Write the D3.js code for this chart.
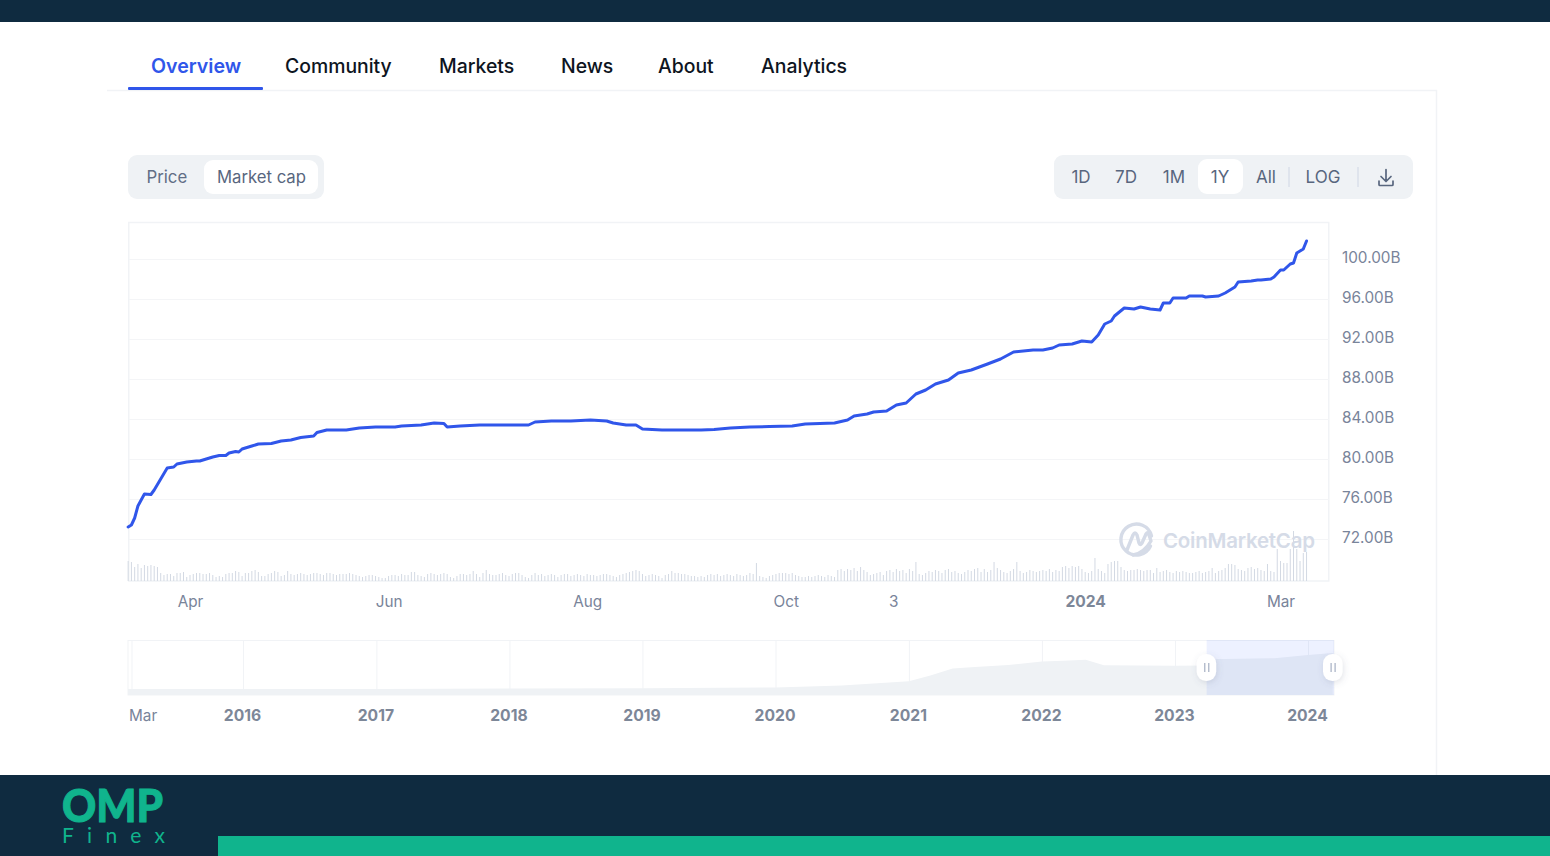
<!DOCTYPE html>
<html>
<head>
<meta charset="utf-8">
<title>Market cap</title>
<script src="https://cdnjs.cloudflare.com/ajax/libs/d3/7.8.5/d3.min.js"></script>
<style>
	html, body { margin: 0; padding: 0; background: #fff; overflow: hidden; }
	svg { display: block; }
	text { font-family: Inter, "Noto Sans", sans-serif; }
	.axis path.domain { display: none; }
</style>
</head>
<body>
<svg width="1550" height="856"></svg>
<script>
// Market cap line (date, billions)
const capDates = ["2023-03-13","2023-03-14","2023-03-15","2023-03-16","2023-03-18","2023-03-20","2023-03-21","2023-03-23","2023-03-25","2023-03-27","2023-03-28","2023-03-31",
	"2023-04-03","2023-04-04","2023-04-06","2023-04-08","2023-04-10","2023-04-12","2023-04-13","2023-04-15","2023-04-16","2023-04-17","2023-04-18","2023-04-20","2023-04-22","2023-04-26","2023-04-29",
	"2023-05-02","2023-05-05","2023-05-09","2023-05-10","2023-05-13","2023-05-19","2023-05-23","2023-05-28",
	"2023-06-03","2023-06-05","2023-06-11","2023-06-15","2023-06-18","2023-06-19","2023-06-23","2023-06-29",
	"2023-07-05","2023-07-14","2023-07-16","2023-07-21","2023-07-27",
	"2023-08-02","2023-08-07","2023-08-09","2023-08-13","2023-08-16","2023-08-18","2023-08-24","2023-08-30",
	"2023-09-05","2023-09-09","2023-09-14","2023-09-20","2023-09-26",
	"2023-10-03","2023-10-07","2023-10-16","2023-10-20","2023-10-22","2023-10-26","2023-10-28",
	"2023-11-01","2023-11-04","2023-11-07","2023-11-10","2023-11-13","2023-11-16","2023-11-20","2023-11-23","2023-11-27",
	"2023-12-02","2023-12-06","2023-12-10","2023-12-16","2023-12-19","2023-12-22","2023-12-24","2023-12-28","2023-12-31",
	"2024-01-03","2024-01-05","2024-01-07","2024-01-09","2024-01-10","2024-01-13","2024-01-16","2024-01-18","2024-01-21","2024-01-24","2024-01-25","2024-01-27","2024-01-28",
	"2024-02-01","2024-02-02","2024-02-06","2024-02-07","2024-02-11","2024-02-13","2024-02-16","2024-02-17","2024-02-21","2024-02-23","2024-02-24","2024-02-27","2024-02-28",
	"2024-03-01","2024-03-02","2024-03-04","2024-03-05","2024-03-06","2024-03-08","2024-03-09"];
const capValues = [73.2,73.4,74.1,75.3,76.5,76.45,76.9,78.0,79.1,79.2,79.5,79.7,
	79.8,79.8,80.0,80.2,80.35,80.35,80.6,80.75,80.7,81.0,81.1,81.3,81.5,81.55,81.8,
	81.9,82.15,82.3,82.65,82.9,82.9,83.1,83.2,
	83.2,83.3,83.4,83.6,83.55,83.2,83.3,83.4,
	83.4,83.4,83.7,83.8,83.8,
	83.9,83.8,83.6,83.4,83.4,83.0,82.9,82.9,
	82.9,82.95,83.1,83.2,83.25,
	83.3,83.5,83.6,83.9,84.3,84.5,84.7,
	84.8,85.4,85.6,86.5,86.9,87.5,87.9,88.6,88.9,
	89.5,90.0,90.7,90.9,90.9,91.1,91.4,91.5,91.8,
	91.7,92.4,93.5,93.8,94.3,95.1,95.0,95.2,95.0,94.9,95.6,95.6,96.1,
	96.1,96.3,96.3,96.2,96.3,96.6,97.2,97.7,97.8,97.9,97.9,98.0,98.2,
	98.9,98.9,99.5,99.6,100.6,101.0,101.8];

// Daily volume under the line, one row per month, billions
const volumeStart = "2023-03-13";
const volumes = [
	20,19,14,17,13,16,15,16,15,14,8,6,7,7,5,8,8,9,4,
	6,7,8,8,7,7,8,6,4,5,4,7,8,8,10,9,5,8,8,10,11,9,5,5,7,8,10,9,5,6,
	10,7,6,7,8,7,6,7,8,8,7,6,8,8,7,6,7,7,7,8,7,6,5,4,5,6,6,5,4,3,3,
	5,6,6,5,7,6,6,9,9,6,5,4,7,8,7,6,7,8,7,4,3,5,7,7,6,7,10,7,4,8,
	11,7,6,6,7,8,6,5,7,8,8,6,4,3,6,8,6,7,5,6,7,6,4,6,7,7,5,6,7,6,5,
	7,6,6,5,6,7,7,6,5,4,6,7,8,9,10,11,10,7,5,6,7,6,5,3,6,7,10,8,8,7,7,
	6,5,5,4,5,4,6,7,6,7,5,6,7,6,5,7,6,5,6,8,7,18,5,4,3,5,6,7,8,8,
	8,7,8,6,5,4,4,5,4,5,6,5,4,6,5,4,11,12,10,12,11,13,10,14,11,9,6,7,8,9,6,
	10,11,9,12,10,11,8,12,10,19,7,6,8,10,9,11,10,8,11,12,9,10,8,7,9,11,10,12,13,9,
	12,9,11,19,13,11,9,8,10,12,19,10,8,9,11,10,9,10,11,10,12,9,11,10,14,15,13,15,14,15,12,
	9,8,10,23,12,10,8,17,19,20,20,14,11,10,11,11,12,11,10,11,11,8,13,9,10,11,9,8,10,9,10,
	9,8,8,9,10,8,9,10,13,8,10,11,13,17,17,16,12,11,10,13,14,12,13,11,10,17,10,9,32,
	20,18,18,32,50,32,20,28,29
];

// Overview strip under the chart (date, billions)
const overviewDates = ["2015-03-01","2017-01-01","2018-01-01","2019-01-01","2020-01-01","2020-07-01","2021-01-01","2021-03-01","2021-05-01","2021-07-01","2021-10-01","2022-01-01","2022-03-01","2022-05-01","2022-06-20","2023-01-01","2023-03-20","2023-03-29","2023-10-01","2024-01-01","2024-03-09"];
const overviewValues = [0,0.1,1.3,2,4.5,10,22,38,58,62,68,78,80,83,67,66,66.5,84,87,96,102];
const selectionDates = ["2023-03-29","2024-03-09"];

// Tick labels
const yTicks = [72,76,80,84,88,92,96,100];
const xTickDates = ["2023-04-01","2023-06-01","2023-08-01","2023-10-01","2023-11-03","2024-01-01","2024-03-01"];
const xTickLabels = ["Apr","Jun","Aug","Oct","3","2024","Mar"];
const overviewTickDates = ["2015-03-01","2016-01-01","2017-01-01","2018-01-01","2019-01-01","2020-01-01","2021-01-01","2022-01-01","2023-01-01","2024-01-01"];
const overviewTickLabels = ["Mar","2016","2017","2018","2019","2020","2021","2022","2023","2024"];

// Page furniture
const tabs = ["Overview","Community","Markets","News","About","Analytics"];
const tabX = [151,285,439,561,658,761];
const ranges = ["1D","7D","1M","1Y","All","LOG"];
const rangeX = [1081,1126,1174,1220,1266,1323];

const parseDate = d3.timeParse("%Y-%m-%d");
const NAVY = "#0f2b40", GREEN = "#10b48d", BLUE = "#3056ea", LINE = "#f1f3f6";

const svg = d3.select("svg");

renderFrame();
renderMainChart();
renderOverview();
renderLogo();

function renderFrame() {
	svg.append("rect").attr("width", 1550).attr("height", 22).attr("fill", NAVY);

	// The card outline around the chart
	svg.append("path").attr("d", "M107 90.5H1436.5V775").attr("fill", "none").attr("stroke", LINE).attr("stroke-width", 1.5);

	svg.selectAll(".tab").data(tabs).enter().append("text")
		.attr("class", "tab")
		.attr("x", (d, i) => tabX[i])
		.attr("y", 73)
		.attr("font-size", (d, i) => i === 0 ? 19.6 : 19.4)
		.attr("font-weight", (d, i) => i === 0 ? 600 : 500)
		.attr("fill", (d, i) => i === 0 ? BLUE : "#0d1421")
		.text(d => d);
	svg.append("rect").attr("x", 128).attr("y", 87).attr("width", 135).attr("height", 3).attr("rx", 1).attr("fill", BLUE);

	// Price / Market cap toggle
	svg.append("rect").attr("x", 128).attr("y", 155).attr("width", 196).attr("height", 44).attr("rx", 9).attr("fill", "#eff2f5");
	svg.append("rect").attr("x", 204).attr("y", 160).attr("width", 114).attr("height", 34).attr("rx", 9).attr("fill", "#fff");
	svg.append("text").attr("x", 146.5).attr("y", 182.5).attr("font-size", 16.8).attr("fill", "#616e85").text("Price");
	svg.append("text").attr("x", 217).attr("y", 182.5).attr("font-size", 16.7).attr("fill", "#58667e").text("Market cap");

	// Range buttons
	svg.append("rect").attr("x", 1054).attr("y", 155).attr("width", 359).attr("height", 44).attr("rx", 9).attr("fill", "#eff2f5");
	svg.append("rect").attr("x", 1198).attr("y", 159).attr("width", 45).attr("height", 35).attr("rx", 9).attr("fill", "#fff");
	svg.selectAll(".range").data(ranges).enter().append("text")
		.attr("class", "range")
		.attr("x", (d, i) => rangeX[i])
		.attr("y", d => d === "LOG" ? 182.5 : 183)
		.attr("text-anchor", "middle")
		.attr("font-size", 17)
		.attr("fill", "#58667e")
		.text(d => d);
	[1289, 1358].forEach(x => {
		svg.append("line").attr("x1", x).attr("x2", x).attr("y1", 167).attr("y2", 187).attr("stroke", "#cfd6e4");
	});

	// Download icon
	svg.append("path")
		.attr("d", "M1386 169.5V181M1381 176.5L1386 181.5L1391 176.5M1379 181V184.5Q1379 185.5 1380 185.5H1392Q1393 185.5 1393 184.5V181")
		.attr("fill", "none").attr("stroke", "#58667e").attr("stroke-width", 1.7)
		.attr("stroke-linecap", "round").attr("stroke-linejoin", "round");
}

function renderMainChart() {
	const x = d3.scaleTime()
		.domain([parseDate("2023-04-01"), parseDate("2024-03-01")])
		.range([190, 1280.5]);
	const y = d3.scaleLinear().domain([72, 100]).range([539, 259]);
	const yVolume = d3.scaleLinear().domain([0, 50]).range([581, 531]);

	// Frame of the plot
	svg.append("rect").attr("x", 128.75).attr("y", 222.5).attr("width", 1200).attr("height", 358.5)
		.attr("fill", "none").attr("stroke", LINE).attr("stroke-width", 1.5);

	const yAxis = d3.axisRight(y)
		.tickValues(yTicks)
		.tickSize(-1200)
		.tickPadding(13)
		.tickFormat(d => d3.format(".2f")(d) + "B");
	const yg = svg.append("g").attr("class", "axis")
		.attr("transform", "translate(1329,0)")
		.call(yAxis);
	yg.selectAll("line").attr("stroke", "#f4f5f7").attr("stroke-width", 1.2);
	yg.selectAll("text")
		.attr("dy", "0.25em")
		.attr("font-size", 15.3)
		.attr("fill", "#79849a");

	const xAxis = d3.axisBottom(x)
		.tickValues(xTickDates.map(parseDate))
		.tickSize(0)
		.tickPadding(15)
		.tickFormat((d, i) => xTickLabels[i]);
	const xg = svg.append("g").attr("class", "axis")
		.attr("transform", "translate(0,581)")
		.call(xAxis);
	xg.selectAll("text")
		.attr("font-size", (d, i) => xTickLabels[i] === "2024" ? 15.6 : 15.3)
		.attr("font-weight", (d, i) => xTickLabels[i] === "2024" ? 700 : 400)
		.attr("fill", (d, i) => xTickLabels[i] === "2024" ? "#7d8798" : "#79849a");

	// Volume, one thin bar per day
	const start = parseDate(volumeStart);
	svg.append("g").selectAll("rect").data(volumes).enter().append("rect")
		.attr("x", (d, i) => x(d3.timeDay.offset(start, i)) - 0.5)
		.attr("y", d => yVolume(d))
		.attr("width", 1)
		.attr("height", d => yVolume(0) - yVolume(d))
		.attr("fill", "#d3d9e3");

	renderWatermark();

	const line = d3.line()
		.x(d => x(d[0]))
		.y(d => y(d[1]));
	svg.append("path")
		.datum(capDates.map((d, i) => [parseDate(d), capValues[i]]))
		.attr("d", line)
		.attr("fill", "none")
		.attr("stroke", BLUE)
		.attr("stroke-width", 3)
		.attr("stroke-linejoin", "round")
		.attr("stroke-linecap", "round");
}

function renderWatermark() {
	const mark = svg.append("g").attr("fill", "none").attr("stroke", "#d5dbe7").attr("stroke-width", 3.4)
		.attr("stroke-linecap", "round").attr("stroke-linejoin", "round");
	mark.append("path").attr("d", "M1150.5 546A15.5 15.5 0 1 1 1151.5 536");
	mark.append("path").attr("d", "M1127 550L1133 535Q1135 531 1137 535L1139 543Q1140 546 1142 543L1146 534Q1148 531 1149 535L1151 541Q1144 553 1133 555");
	svg.append("text")
		.attr("x", 1163).attr("y", 547.5)
		.attr("font-size", 20.5).attr("font-weight", 600)
		.attr("fill", "#d5dbe7")
		.attr("textLength", 152)
		.text("CoinMarketCap");
}

function renderOverview() {
	const x = d3.scaleTime()
		.domain([parseDate("2016-01-01"), parseDate("2024-01-01")])
		.range([243, 1308]);
	const y = d3.scaleLinear().domain([0, 102]).range([689, 653]);
	const dates = overviewDates.map(parseDate);

	svg.append("rect").attr("x", 128).attr("y", 640.5).attr("width", 1206).attr("height", 54.5)
		.attr("fill", "#fff").attr("stroke", LINE).attr("stroke-width", 1);

	const axis = d3.axisBottom(x)
		.tickValues(overviewTickDates.map(parseDate))
		.tickSize(-55)
		.tickPadding(15)
		.tickFormat((d, i) => overviewTickLabels[i]);
	const g = svg.append("g").attr("class", "axis")
		.attr("transform", "translate(0,695)")
		.call(axis);
	g.selectAll("line").attr("stroke", "#f1f3f6");
	g.selectAll("text")
		.attr("font-size", (d, i) => i === 0 ? 15.3 : 15.7)
		.attr("font-weight", (d, i) => i === 0 ? 400 : 700)
		.attr("fill", (d, i) => i === 0 ? "#79849a" : "#7d8798")
		.attr("text-anchor", (d, i) => i === 0 ? "start" : "middle")
		.attr("dx", (d, i) => i === 0 ? -3 : -1);

	const area = d3.area()
		.x(d => x(d[0]))
		.y0(695)
		.y1(d => y(d[1]));
	// The bottom band reaches back to the left edge of the strip
	svg.append("rect").attr("x", 128).attr("y", y(0)).attr("width", x(dates[0]) - 128 + 1).attr("height", 695 - y(0)).attr("fill", "#eff2f5");
	svg.append("path")
		.datum(dates.map((d, i) => [d, overviewValues[i]]))
		.attr("d", area)
		.attr("fill", "#eff2f5");

	const selLeft = x(parseDate(selectionDates[0]));
	const selRight = 1334;
	svg.append("rect")
		.attr("x", selLeft).attr("y", 640)
		.attr("width", selRight - selLeft).attr("height", 55)
		.attr("fill", "#3861fb").attr("fill-opacity", 0.09);

	const defs = svg.append("defs");
	const shadow = defs.append("filter").attr("id", "handle-shadow")
		.attr("x", "-60%").attr("y", "-60%").attr("width", "220%").attr("height", "220%");
	shadow.append("feDropShadow")
		.attr("dx", 1).attr("dy", 2).attr("stdDeviation", 3)
		.attr("flood-color", "#58667e").attr("flood-opacity", 0.18);

	[selLeft, selRight - 1].forEach(cx => {
		svg.append("rect")
			.attr("x", cx - 10).attr("y", 654)
			.attr("width", 19.5).attr("height", 27)
			.attr("rx", 9.5)
			.attr("fill", "#fff")
			.attr("filter", "url(#handle-shadow)");
		[-2.5, 1.5].forEach(dx => {
			svg.append("rect")
				.attr("x", cx + dx).attr("y", 663)
				.attr("width", 1.2).attr("height", 9)
				.attr("fill", "#a6b0c3");
		});
	});
}

function renderLogo() {
	svg.append("rect").attr("y", 775).attr("width", 1550).attr("height", 81).attr("fill", NAVY);
	svg.append("rect").attr("x", 218).attr("y", 836).attr("width", 1332).attr("height", 20).attr("fill", GREEN);
	svg.append("text")
		.attr("x", 62).attr("y", 821.5)
		.attr("font-size", 45)
		.attr("font-weight", 900)
		.attr("fill", GREEN)
		.attr("stroke", GREEN)
		.attr("stroke-width", 1)
		.attr("textLength", 101)
		.attr("lengthAdjust", "spacingAndGlyphs")
		.style("font-family", "Lato, sans-serif")
		.text("OMP");
	svg.append("text")
		.attr("x", 62).attr("y", 842.5)
		.attr("font-size", 21)
		.attr("font-weight", 400)
		.attr("fill", GREEN)
		.attr("textLength", 103)
		.style("font-family", "Lato, sans-serif")
		.text("Finex");
}
</script>
</body>
</html>
